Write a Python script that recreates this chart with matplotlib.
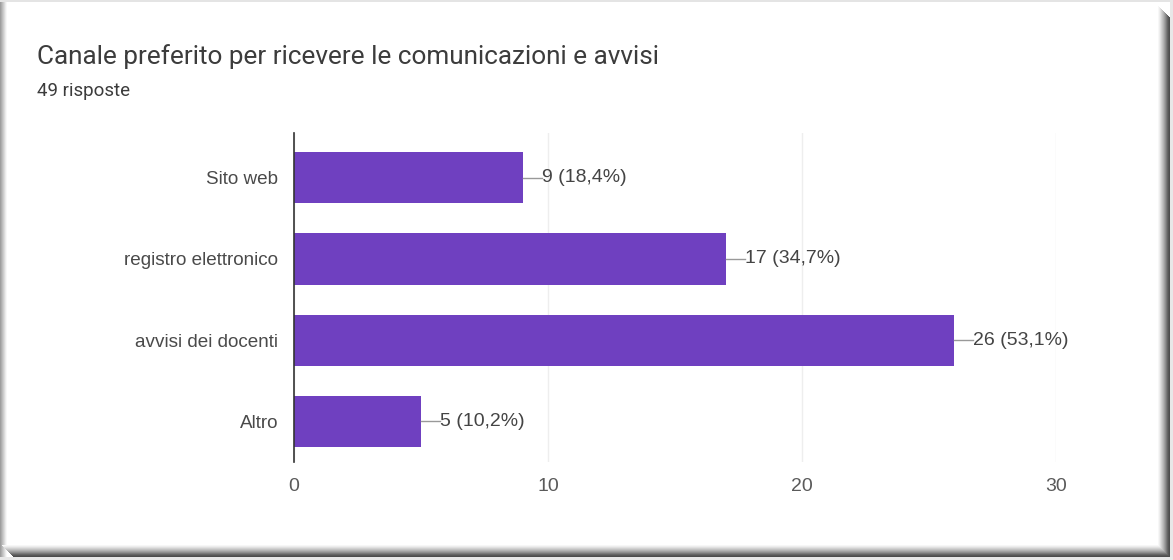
import matplotlib.pyplot as plt
from matplotlib.patches import Rectangle

categories = ["Sito web", "registro elettronico", "avvisi dei docenti", "Altro"]
counts = [9, 17, 26, 5]
percents = ["18,4%", "34,7%", "53,1%", "10,2%"]
ticks = [0, 10, 20, 30]

W, H = 1173, 560
fig = plt.figure(figsize=(W / 100, H / 100), dpi=100)
fig.patch.set_facecolor("white")


def px_rect(x0, y0, w, h, col):
    fig.patches.append(Rectangle((x0 / W, 1 - (y0 + h) / H), w / W, h / H,
                                 transform=fig.transFigure, facecolor=col,
                                 edgecolor="none", zorder=-10))


# card frame: light top edge, soft left edge, dark shadow right and bottom
px_rect(0, 0, W, 2, "#e4e4e4")
px_rect(0, 557, W, 3, "#e8e8e8")
px_rect(1170, 0, 3, H, "#e8e8e8")
left_shades = [0.62, 0.68, 0.74, 0.8, 0.86, 0.92, 0.97]
for i, g in enumerate(left_shades):
    px_rect(i, 2, 1, 555, str(g))
shadow = [0.97, 0.93, 0.88, 0.82, 0.76, 0.7, 0.63, 0.56, 0.48, 0.4, 0.34, 0.3]
for i, g in enumerate(shadow):
    px_rect(1158 + i, 6 + i, 1, 551 - i, str(g))
    px_rect(i + 2, 545 + i, 1156, 1, str(g))

fig.text(37 / W, 1 - 57 / H, "Canale preferito per ricevere le comunicazioni e avvisi",
         fontsize=18.8, color="#3c3c3c", family="Roboto", va="center")
fig.text(37 / W, 1 - 91 / H, "49 risposte", fontsize=13.5, color="#3c3c3c",
         family="Roboto", va="center")

left, right = 294 / W, 1056 / W
top, bottom = 1 - 133 / H, 1 - 462 / H
ax = fig.add_axes([left, bottom, right - left, top - bottom])
ax.set_facecolor("none")

y = list(range(len(categories)))
ax.barh(y, counts, height=0.63, color="#6f40c0", zorder=3)
ax.set_xlim(0, 30)
ax.set_ylim(3.5, -0.55)

for i, (c, p) in enumerate(zip(counts, percents)):
    ax.plot([c, c + 0.75], [i, i], color="#999999", lw=1, zorder=3)
    ax.text(c + 0.75, i, f"{c} ({p})", va="center", ha="left",
            fontsize=14, color="#444444", family="Liberation Sans")

ax.set_yticks(y)
ax.set_yticklabels(categories, fontsize=13.6, color="#4a4a4a", family="Liberation Sans")
ax.set_xticks(ticks)
ax.set_xticklabels([str(t) for t in ticks], fontsize=14, color="#5a5a5a",
                   family="Liberation Sans")
ax.tick_params(axis="y", length=0, pad=11.5)
ax.tick_params(axis="x", length=0, pad=11.5)
ax.grid(axis="x", color="#eeeeee", lw=1, zorder=0)
for s in ["top", "right", "bottom"]:
    ax.spines[s].set_visible(False)
ax.spines["left"].set_color("#333333")
ax.spines["left"].set_linewidth(1.2)
ax.spines["left"].set_zorder(4)

fig.savefig("out.png", dpi=100)
